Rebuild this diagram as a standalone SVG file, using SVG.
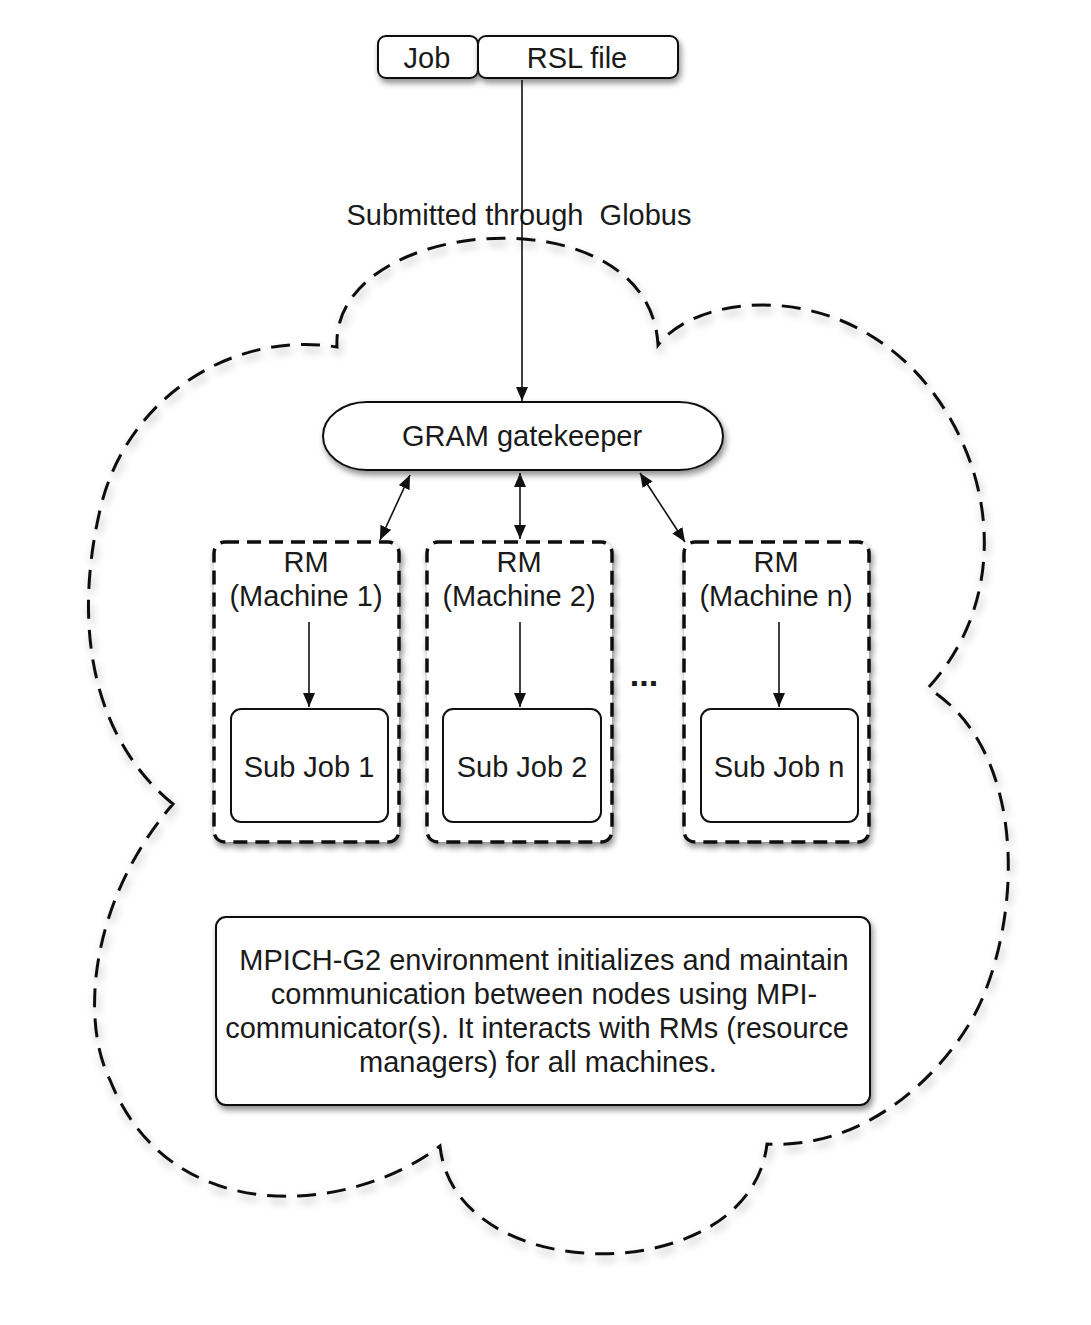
<svg xmlns="http://www.w3.org/2000/svg" width="1091" height="1325" viewBox="0 0 1091 1325">
<defs>
<style>
.t{font-family:"Liberation Sans",Arial,Helvetica,sans-serif;font-size:29px;fill:#1a1a1a;text-anchor:middle}
.solid{fill:#fff;stroke:#111;stroke-width:2}
.rm{fill:#fff;stroke:#111;stroke-width:3.5;stroke-dasharray:14 8}
.cloud{fill:none;stroke:#111;stroke-width:3;stroke-dasharray:19 11}
.ln{stroke:#111;stroke-width:1.6;fill:none}
</style>
<filter id="sh" x="-10%" y="-10%" width="130%" height="140%">
<feDropShadow dx="2" dy="4" stdDeviation="3" flood-color="#000" flood-opacity="0.45"/>
</filter>
<filter id="shc" x="-10%" y="-10%" width="130%" height="130%">
<feDropShadow dx="2" dy="5" stdDeviation="4" flood-color="#000" flood-opacity="0.3"/>
</filter>
<marker id="ah" viewBox="0 0 14 12" refX="14" refY="6" markerWidth="14" markerHeight="12" markerUnits="userSpaceOnUse" orient="auto-start-reverse">
<path d="M0,0 L14,6 L0,12 z" fill="#111"/>
</marker>
</defs>
<rect width="1091" height="1325" fill="#fff"/>

<g id="cloud">
<path class="cloud" filter="url(#shc)" d="M173,804 C100,745 70,640 100,510 C125,400 230,330 337,347 C330,215 650,190 658,345 C700,290 860,275 945,410 C1000,497 1000,610 928,688 C1020,745 1025,895 983,997 C960,1053 880,1150 767,1144 C750,1290 455,1290 440,1146 C350,1215 170,1230 110,1080 C80,1020 90,900 173,804 Z"/>
</g>

<g id="job">
<rect class="solid" filter="url(#sh)" x="378" y="36" width="100" height="42" rx="8"/>
<text class="t" x="427" y="68">Job</text>
</g>
<g id="rsl">
<rect class="solid" filter="url(#sh)" x="478" y="36" width="200" height="42" rx="8"/>
<text class="t" x="577" y="68">RSL file</text>
</g>

<g id="label-submitted">
<text class="t" x="519" y="225" xml:space="preserve">Submitted through  Globus</text>
</g>

<g id="gram">
<rect class="solid" filter="url(#sh)" x="323" y="402" width="400" height="68" rx="44" ry="34"/>
<text class="t" x="522" y="446">GRAM gatekeeper</text>
</g>

<g id="rm1">
<rect class="rm" filter="url(#sh)" x="214" y="542" width="185" height="300" rx="11"/>
<text class="t" x="306" y="572">RM</text>
<text class="t" x="306" y="606">(Machine 1)</text>
</g>
<g id="rm2">
<rect class="rm" filter="url(#sh)" x="427" y="542" width="185" height="300" rx="11"/>
<text class="t" x="519" y="572">RM</text>
<text class="t" x="519" y="606">(Machine 2)</text>
</g>
<g id="rmn">
<rect class="rm" filter="url(#sh)" x="684" y="542" width="185" height="300" rx="11"/>
<text class="t" x="776" y="572">RM</text>
<text class="t" x="776" y="606">(Machine n)</text>
</g>

<g id="sub1">
<rect class="solid" x="231" y="709" width="157" height="113" rx="10"/>
<text class="t" x="309" y="777">Sub Job 1</text>
</g>
<g id="sub2">
<rect class="solid" x="443" y="709" width="158" height="113" rx="10"/>
<text class="t" x="522" y="777">Sub Job 2</text>
</g>
<g id="subn">
<rect class="solid" x="701" y="709" width="157" height="113" rx="10"/>
<text class="t" x="779" y="777">Sub Job n</text>
</g>

<g id="ellipsis">
<text class="t" x="644" y="686" style="font-weight:bold;font-size:34px">...</text>
</g>

<g id="mpich">
<rect class="solid" filter="url(#sh)" x="216" y="917" width="654" height="188" rx="10"/>
<text class="t" x="544" y="970">MPICH-G2 environment initializes and maintain</text>
<text class="t" x="544" y="1004">communication between nodes using MPI-</text>
<text class="t" x="537" y="1038">communicator(s). It interacts with RMs (resource</text>
<text class="t" x="538" y="1072">managers) for all machines.</text>
</g>

<g id="connectors">
<line class="ln" x1="522" y1="80" x2="522" y2="401" marker-end="url(#ah)"/>
<line class="ln" x1="410" y1="475" x2="380" y2="540" marker-start="url(#ah)" marker-end="url(#ah)"/>
<line class="ln" x1="520" y1="473" x2="520" y2="539" marker-start="url(#ah)" marker-end="url(#ah)"/>
<line class="ln" x1="640" y1="473" x2="685" y2="542" marker-start="url(#ah)" marker-end="url(#ah)"/>
<line class="ln" x1="309" y1="622" x2="309" y2="707" marker-end="url(#ah)"/>
<line class="ln" x1="520" y1="622" x2="520" y2="707" marker-end="url(#ah)"/>
<line class="ln" x1="779" y1="622" x2="779" y2="707" marker-end="url(#ah)"/>
</g>
</svg>
